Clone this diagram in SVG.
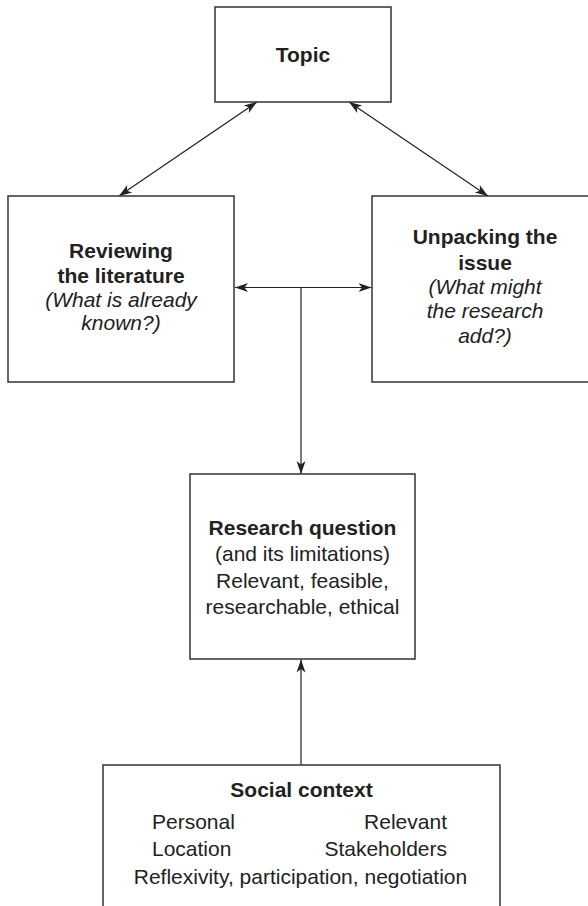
<svg xmlns="http://www.w3.org/2000/svg" width="588" height="906" viewBox="0 0 588 906">
<style>
.box{fill:#fff;stroke:#333;stroke-width:1.5}
.t{font-family:"Liberation Sans",Arial,Helvetica,sans-serif;font-size:21px;fill:#222;text-anchor:middle}
.b{font-weight:bold}
.i{font-style:italic}
.s{text-anchor:start}
.e{text-anchor:end}
.c{fill:none;stroke:#222;stroke-width:1.2}
</style>
<defs>
<marker id="ah" viewBox="-13 -6 14 12" refX="0" refY="0" markerWidth="14" markerHeight="12" markerUnits="userSpaceOnUse" orient="auto-start-reverse">
<path d="M0,0 L-13,-4.5 L-9.5,0 L-13,4.5 Z" fill="#222"/>
</marker>
</defs>
<rect width="588" height="906" fill="#fff"/>
<g id="connectors">
<line class="c" x1="257" y1="102" x2="119" y2="196" marker-start="url(#ah)" marker-end="url(#ah)"/>
<line class="c" x1="349" y1="102" x2="488" y2="196" marker-start="url(#ah)" marker-end="url(#ah)"/>
<line class="c" x1="235" y1="287.5" x2="371.5" y2="287.5" marker-start="url(#ah)" marker-end="url(#ah)"/>
<line class="c" x1="301" y1="287.5" x2="301" y2="474" marker-end="url(#ah)"/>
<line class="c" x1="301" y1="765" x2="301" y2="659.5" marker-end="url(#ah)"/>
</g>
<g id="topic">
<rect class="box" x="215" y="7" width="176" height="95"/>
<text class="t b" x="303" y="62">Topic</text>
</g>
<g id="reviewing">
<rect class="box" x="8" y="196" width="226" height="186"/>
<text class="t b" x="121" y="258">Reviewing</text>
<text class="t b" x="121" y="283">the literature</text>
<text class="t i" x="121" y="307">(What is already</text>
<text class="t i" x="121" y="330">known?)</text>
</g>
<g id="unpacking">
<rect class="box" x="372" y="196" width="230" height="186"/>
<text class="t b" x="485" y="244">Unpacking the</text>
<text class="t b" x="485" y="270">issue</text>
<text class="t i" x="485" y="294">(What might</text>
<text class="t i" x="485" y="318">the research</text>
<text class="t i" x="485" y="343">add?)</text>
</g>
<g id="research">
<rect class="box" x="190" y="474" width="225" height="185"/>
<text class="t b" x="302.5" y="535">Research question</text>
<text class="t" x="302.5" y="561">(and its limitations)</text>
<text class="t" x="302.5" y="587.5">Relevant, feasible,</text>
<text class="t" x="302.5" y="614">researchable, ethical</text>
</g>
<g id="social">
<rect class="box" x="103" y="765" width="397" height="160"/>
<text class="t b" x="301.5" y="797">Social context</text>
<text class="t s" x="152" y="829">Personal</text>
<text class="t e" x="447" y="829">Relevant</text>
<text class="t s" x="152" y="856">Location</text>
<text class="t e" x="447" y="856">Stakeholders</text>
<text class="t" x="300.5" y="884">Reflexivity, participation, negotiation</text>
</g>
</svg>
